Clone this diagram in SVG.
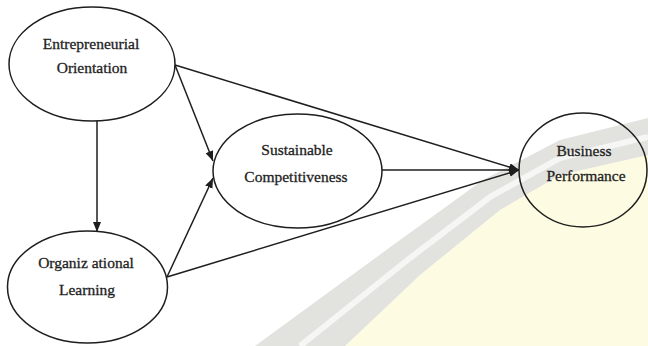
<svg xmlns="http://www.w3.org/2000/svg" width="648" height="346" viewBox="0 0 648 346">
  <style>
    .node ellipse { fill: none; stroke: #1e1e1e; stroke-width: 1.5; }
    .node text { font-family: "Liberation Serif", "Times New Roman", serif; font-size: 15.5px; fill: #1e1e1e; stroke: #1e1e1e; stroke-width: 0.3; text-anchor: middle; }
    .edge { stroke: #1e1e1e; stroke-width: 1.5; fill: none; marker-end: url(#arrow); }
  </style>
  <defs>
    <marker id="arrow" markerUnits="userSpaceOnUse" markerWidth="11" markerHeight="9" refX="10" refY="4" orient="auto">
      <path d="M0,0 L10,4 L0,8 z" fill="#1e1e1e"/>
    </marker>
  </defs>
  <rect width="648" height="346" fill="#ffffff"/>
  <g id="watermark">
    <polygon points="648,155 560,175 500,210 420,275 345,346 648,346" fill="#fdfbe2"/>
    <polygon points="648,118 560,140 483,180 400,240 255,346 345,346 420,275 500,210 560,175 648,155" fill="#e2e2de"/>
    <polyline points="648,137 560,158 490,197 410,258 300,346" fill="none" stroke="#f6f6f4" stroke-width="6"/>
  </g>
  <g id="connectors">
    <path class="edge" d="M97,121 L97,232"/>
    <path class="edge" d="M175,65 L213,161"/>
    <path class="edge" d="M175,65 L519,170"/>
    <path class="edge" d="M382,170 L519,170"/>
    <path class="edge" d="M167,277 L213,178"/>
    <path class="edge" d="M167,277 L519,170"/>
  </g>
  <g id="entrepreneurial-orientation" class="node">
    <ellipse cx="92" cy="64" rx="83" ry="57"/>
    <text x="91" y="49">Entrepreneurial</text>
    <text x="92" y="73">Orientation</text>
  </g>
  <g id="organizational-learning" class="node">
    <ellipse cx="87.5" cy="287" rx="80" ry="56"/>
    <text x="86" y="268">Organiz ational</text>
    <text x="87" y="295">Learning</text>
  </g>
  <g id="sustainable-competitiveness" class="node">
    <ellipse cx="297.5" cy="171" rx="84.5" ry="57"/>
    <text x="297" y="155">Sustainable</text>
    <text x="296" y="182">Competitiveness</text>
  </g>
  <g id="business-performance" class="node">
    <ellipse cx="583" cy="170" rx="64" ry="57"/>
    <text x="584" y="156">Business</text>
    <text x="586" y="181">Performance</text>
  </g>
</svg>
